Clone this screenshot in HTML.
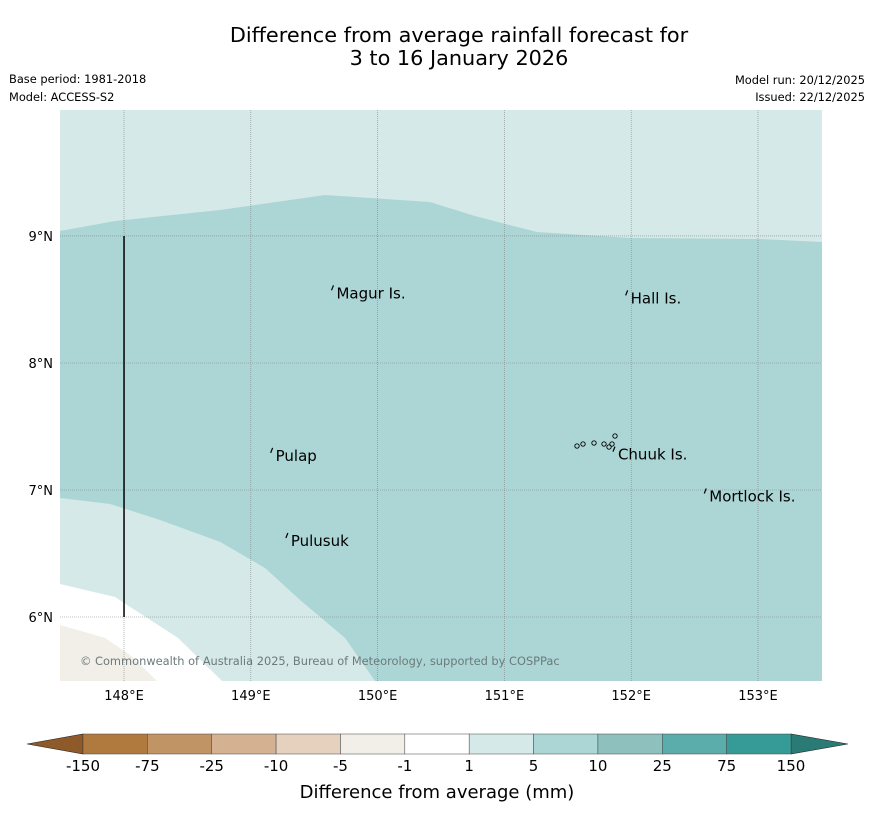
<!DOCTYPE html>
<html><head><meta charset="utf-8"><style>
body{margin:0;background:#fff;font-family:"DejaVu Sans","Liberation Sans",sans-serif;}
svg{display:block}
</style></head><body>
<svg id="c" width="873" height="816" xmlns="http://www.w3.org/2000/svg">
<text x="459" y="42" font-size="20.8" text-anchor="middle">Difference from average rainfall forecast for</text>
<text x="459" y="65" font-size="20.8" text-anchor="middle">3 to 16 January 2026</text>
<text x="9" y="83" font-size="11.4">Base period: 1981-2018</text>
<text x="9" y="101" font-size="11.4">Model: ACCESS-S2</text>
<text x="865" y="84" font-size="11.4" text-anchor="end">Model run: 20/12/2025</text>
<text x="865" y="101" font-size="11.4" text-anchor="end">Issued: 22/12/2025</text>
<g id="map"></g>
<g id="cb"></g>
<text x="437" y="798" font-size="18" text-anchor="middle">Difference from average (mm)</text>
</svg>
<script>
const lonTicks=[148,149,150,151,152,153];
const latTicks=[9,8,7,6];
const topLon=[147.495,147.929,148.757,149.585,150.413,150.768,151.257,151.998,153.016,153.505];
const topLat=[9.039,9.118,9.205,9.323,9.268,9.157,9.031,8.984,8.976,8.953];
const midLon=[147.495,147.890,148.284,148.757,149.112,149.388,149.743,149.980];
const midLat=[6.937,6.890,6.764,6.591,6.386,6.134,5.835,5.496];
const lowLon=[147.495,147.929,148.426,148.773];
const lowLat=[6.260,6.157,5.835,5.496];
const dryLon=[147.495,147.85,148.047,148.26];
const dryLat=[5.937,5.835,5.701,5.496];
const places=["Magur Is.","Hall Is.","Pulap","Chuuk Is.","Mortlock Is.","Pulusuk"];
const placeLon=[149.66,151.98,149.18,151.88,152.6,149.3];
const placeLat=[8.58,8.54,7.30,7.31,6.98,6.63];
const cbLabels=["-150","-75","-25","-10","-5","-1","1","5","10","25","75","150"];
const cbColors=["#b07a3f","#c19466","#d3b191","#e5d1be","#f2eee8","#ffffff","#d5e9e8","#acd6d5","#8ec0be","#5badab","#369b97"];
const ns="http://www.w3.org/2000/svg";
const X0=60,X1=822,Y0=110,Y1=681,L0=147.495,L1=153.505,A0=5.496,A1=9.992;
const xs=l=>X0+(l-L0)/(L1-L0)*(X1-X0);
const ys=a=>Y1-(a-A0)/(A1-A0)*(Y1-Y0);
function mk(p,t,at){const e=document.createElementNS(ns,t);for(const k in at)e.setAttribute(k,at[k]);p.appendChild(e);return e;}
const map=document.getElementById('map');
function pts(lo,la){return lo.map((l,i)=>xs(l)+','+ys(la[i])).join(' ');}
let e;
e=mk(map,'rect',{x:X0,y:Y0,width:X1-X0,height:Y1-Y0,fill:'#d5e9e8'});

e=mk(map,'polygon',{points:pts(topLon,topLat)+' '+xs(L1)+','+Y1+' '+pts(midLon.slice().reverse(),midLat.slice().reverse()),fill:'#acd6d5'});

e=mk(map,'polygon',{points:pts(lowLon,lowLat)+' '+X0+','+Y1,fill:'#ffffff'});

e=mk(map,'polygon',{points:pts(dryLon,dryLat)+' '+X0+','+Y1,fill:'#f2eee8'});

lonTicks.forEach(l=>{const x=xs(l);
 e=mk(map,'line',{x1:x,y1:Y0,x2:x,y2:Y1,stroke:'#808888','stroke-width':0.6,'stroke-dasharray':'1,1'});
 
 e=mk(map,'text',{x:x,y:700,'font-size':13,'text-anchor':'middle'});e.textContent=l+'°E';
 });
latTicks.forEach(a=>{const y=ys(a);
 e=mk(map,'line',{x1:X0,y1:y,x2:X1,y2:y,stroke:'#808888','stroke-width':0.6,'stroke-dasharray':'1,1'});
 
 e=mk(map,'text',{x:53,y:y+5,'font-size':13,'text-anchor':'end'});e.textContent=a+'°N';
 });
e=mk(map,'line',{x1:xs(148),y1:ys(9),x2:xs(148),y2:ys(6),stroke:'#000','stroke-width':1.5});

places.forEach((p,i)=>{const x=xs(placeLon[i]),y=ys(placeLat[i]);
 e=mk(map,'path',{d:`M${x-3},${y+1} l2,-5`,stroke:'#000','stroke-width':1.2,fill:'none'});
 
 e=mk(map,'text',{x:x+2,y:y+9,'font-size':15});e.textContent=p;
 });
[[577,446],[583,444],[594,443],[604,444],[612,444],[615,436],[609,447]].forEach(q=>{
 e=mk(map,'circle',{cx:q[0],cy:q[1],r:2.2,fill:'none',stroke:'#000','stroke-width':0.9});
 });
e=mk(map,'text',{x:80,y:665,'font-size':11.4,fill:'#6c7a7a'});
e.textContent='© Commonwealth of Australia 2025, Bureau of Meteorology, supported by COSPPac';

const cb=document.getElementById('cb');
const C0=83,C1=791,CY=734,CH=20,W=(C1-C0)/cbColors.length;
e=mk(cb,'polygon',{points:`27,744 ${C0},${CY} ${C0},${CY+CH}`,fill:'#8f5a2a',stroke:'#222','stroke-width':0.6});

e=mk(cb,'polygon',{points:`848,744 ${C1},${CY} ${C1},${CY+CH}`,fill:'#2a7a76',stroke:'#222','stroke-width':0.6});

cbColors.forEach((c,i)=>{
 e=mk(cb,'rect',{x:C0+i*W,y:CY,width:W,height:CH,fill:c,stroke:'#444','stroke-width':0.5});
 });
cbLabels.forEach((t,i)=>{
 e=mk(cb,'text',{x:C0+i*W,y:771,'font-size':15,'text-anchor':'middle'});e.textContent=t;
 });
</script>
</body></html>
